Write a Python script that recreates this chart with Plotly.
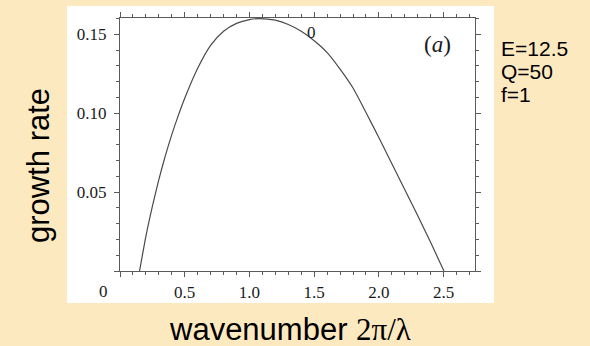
import plotly.graph_objects as go

# Growth rate of the unstable mode versus wavenumber (E=12.5, Q=50, f=1)
wavenumber = [0.151, 0.20, 0.25, 0.30, 0.35, 0.40, 0.45, 0.50, 0.60, 0.70,
              0.80, 0.90, 1.00, 1.08, 1.20, 1.30, 1.40, 1.50, 1.60, 1.70,
              1.80, 1.90, 2.00, 2.10, 2.20, 2.30, 2.40, 2.502]
growth_rate = [0.0, 0.0220, 0.0410, 0.0580, 0.0730, 0.0865, 0.0985, 0.1095, 0.1285, 0.1430,
               0.1520, 0.1570, 0.1594, 0.1600, 0.1590, 0.1563, 0.1520, 0.1460, 0.1385, 0.1280,
               0.1160, 0.1005, 0.0845, 0.0680, 0.0515, 0.0350, 0.0180, 0.0]

x_ticks = [0, 0.5, 1.0, 1.5, 2.0, 2.5]
x_tick_labels = ["", "0.5", "1.0", "1.5", "2.0", "2.5"]
y_ticks = [0, 0.05, 0.10, 0.15]
y_tick_labels = ["", "0.05", "0.10", "0.15"]
params = ["E=12.5", "Q=50", "f=1"]

X_RANGE = [0, 2.742]
Y_RANGE = [0, 0.1604]

# plot-area geometry in pixels
W, H = 590, 346
L, R, T, B = 120, 115, 18, 75
pw, ph = W - L - R, H - T - B


def px(xp):
    return (xp - L) / pw


def py(yp):
    return (H - B - yp) / ph


fig = go.Figure()
fig.add_trace(go.Scatter(
    x=wavenumber, y=growth_rate, mode="lines",
    line=dict(color="#4a4a4a", width=1.2, shape="spline", smoothing=0.6),
    hoverinfo="skip", showlegend=False,
))

axis_common = dict(
    showline=True, linecolor="#5a5a5a", linewidth=1,
    ticks="outside", ticklen=5, tickcolor="#5a5a5a", tickwidth=1,
    mirror="allticks", showgrid=False, zeroline=False,
    tickfont=dict(family="Liberation Serif", size=17, color="#1a1a1a"),
    tickmode="array",
)

fig.update_xaxes(range=X_RANGE, tickvals=x_ticks, ticktext=x_tick_labels,
                 minor=dict(dtick=0.1, tick0=0, ticks="outside", ticklen=3,
                            tickcolor="#5a5a5a", showgrid=False),
                 ticklabelstandoff=1, **axis_common)
fig.update_yaxes(range=Y_RANGE, tickvals=y_ticks, ticktext=y_tick_labels,
                 minor=dict(dtick=0.01, tick0=0, ticks="outside", ticklen=3,
                            tickcolor="#5a5a5a", showgrid=False),
                 ticklabelstandoff=4, **axis_common)

# white panel behind the axes
fig.add_shape(type="rect", xref="paper", yref="paper",
              x0=px(67), x1=px(494), y0=py(303), y1=py(6),
              fillcolor="white", line=dict(width=0), layer="below")

annotations = [
    # origin label
    dict(x=px(103), y=py(291), text="0",
         font=dict(family="Liberation Serif", size=17, color="#1a1a1a")),
    # contour label on the curve
    dict(x=1.48, y=0.1515, xref="x", yref="y", text="0",
         font=dict(family="Liberation Serif", size=17, color="#1a1a1a")),
    # panel label
    dict(x=2.455, y=0.1434, xref="x", yref="y", text="(<i>a</i>)",
         font=dict(family="Liberation Serif", size=23, color="#1a1a1a")),
    # axis titles
    dict(x=px(290), y=py(329),
         text='wavenumber <span style="font-family:Liberation Serif">2π/λ</span>',
         font=dict(family="Liberation Sans", size=31, color="black")),
    dict(x=px(38), y=py(166), text="growth rate", textangle=-90,
         font=dict(family="Liberation Sans", size=31, color="black")),
]
for i, p in enumerate(params):
    annotations.append(dict(x=px(499), y=py(48 + 23 * i), text=p, xanchor="left",
                            font=dict(family="Liberation Sans", size=21, color="black")))
for a in annotations:
    a.setdefault("xref", "paper")
    a.setdefault("yref", "paper")
    a.setdefault("showarrow", False)
    a.setdefault("xanchor", "center")
    a.setdefault("yanchor", "middle")

fig.update_layout(
    width=W, height=H,
    margin=dict(l=L, r=R, t=T, b=B),
    paper_bgcolor="#fde9c0", plot_bgcolor="white",
    annotations=annotations,
)

fig.write_html("out.html")
